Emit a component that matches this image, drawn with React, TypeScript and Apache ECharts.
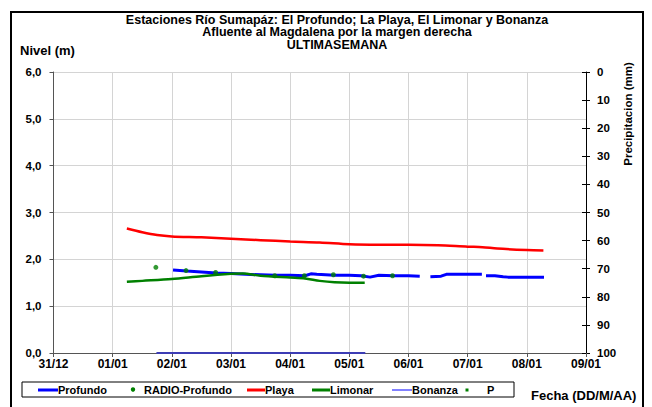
import React, { useEffect, useRef } from "react";
import * as echarts from "echarts";

const xTickLabels = ["31/12", "01/01", "02/01", "03/01", "04/01", "05/01", "06/01", "07/01", "08/01", "09/01"];

const profundoDays = [2.02, 2.25, 2.5, 2.75, 3.0, 3.25, 3.5, 3.75, 4.0, 4.25, 4.35, 4.45, 4.75, 5.0, 5.2, 5.35, 5.5, 5.75, 6.0, 6.19, 6.28, 6.37, 6.55, 6.64, 7.0, 7.24, 7.28, 7.31, 7.46, 7.6, 7.68, 8.0, 8.29];
const profundoLevels = [1.77, 1.75, 1.73, 1.71, 1.7, 1.68, 1.67, 1.66, 1.66, 1.65, 1.69, 1.68, 1.66, 1.66, 1.65, 1.62, 1.66, 1.65, 1.65, 1.64, null, 1.63, 1.64, 1.68, 1.68, 1.68, null, 1.65, 1.65, 1.63, 1.62, 1.62, 1.62];

const radioDays = [1.73, 2.24, 2.74, 3.74, 4.24, 4.73, 5.24, 5.73];
const radioLevels = [1.83, 1.76, 1.72, 1.65, 1.65, 1.67, 1.64, 1.65];

const playaDays = [1.24, 1.5, 1.75, 2.0, 2.5, 3.0, 3.5, 4.0, 4.5, 5.0, 5.5, 6.0, 6.5, 7.0, 7.25, 7.5, 8.0, 8.28];
const playaLevels = [2.66, 2.58, 2.52, 2.49, 2.47, 2.44, 2.41, 2.38, 2.36, 2.32, 2.31, 2.31, 2.3, 2.27, 2.26, 2.23, 2.2, 2.19];

const limonarDays = [1.24, 1.5, 2.0, 2.5, 3.0, 3.2, 3.5, 4.0, 4.25, 4.5, 4.75, 5.0, 5.26];
const limonarLevels = [1.52, 1.54, 1.58, 1.64, 1.69, 1.7, 1.65, 1.61, 1.59, 1.54, 1.51, 1.5, 1.5];

const bonanzaDays = [1.74, 5.27];
const bonanzaLevels = [0, 0];

const pDays: number[] = [];
const pValues: number[] = [];

const titleLines = [
  "Estaciones Río Sumapáz: El Profundo; La Playa, El Limonar y Bonanza",
  "Afluente al Magdalena por la margen derecha",
  "ULTIMASEMANA",
];

const FONT = "'Liberation Sans', Arial, sans-serif";

function zip(xs: number[], ys: (number | null)[]) {
  return xs.map((x, i) => [x, ys[i] === null ? "-" : ys[i]]);
}

export default function App() {
  const ref = useRef<HTMLDivElement>(null);
  useEffect(() => {
    document.body.style.margin = "0";
    const chart = echarts.init(ref.current!, null, { renderer: "svg" });
    const textStyle = { fontFamily: FONT, fontWeight: "bold" as const, fontSize: 11, fill: "#000" };
    const legendY = 390;
    const legendItems: any[] = [
      { type: "rect", shape: { x: 22, y: 382, width: 492, height: 15 }, style: { fill: "#fff", stroke: "#000", lineWidth: 1 } },
      { type: "line", shape: { x1: 38, y1: legendY, x2: 58, y2: legendY }, style: { stroke: "#0000ff", lineWidth: 3 } },
      { type: "text", x: 58, y: legendY, style: { ...textStyle, text: "Profundo", textVerticalAlign: "middle" } },
      { type: "circle", shape: { cx: 133, cy: legendY - 0.5, r: 2.2 }, style: { fill: "#008000" } },
      { type: "text", x: 144, y: legendY, style: { ...textStyle, text: "RADIO-Profundo", textVerticalAlign: "middle" } },
      { type: "line", shape: { x1: 247, y1: legendY, x2: 265, y2: legendY }, style: { stroke: "#ff0000", lineWidth: 3 } },
      { type: "text", x: 265, y: legendY, style: { ...textStyle, text: "Playa", textVerticalAlign: "middle" } },
      { type: "line", shape: { x1: 312, y1: legendY, x2: 330, y2: legendY }, style: { stroke: "#008000", lineWidth: 3 } },
      { type: "text", x: 330, y: legendY, style: { ...textStyle, text: "Limonar", textVerticalAlign: "middle" } },
      { type: "line", shape: { x1: 392, y1: legendY, x2: 412, y2: legendY }, style: { stroke: "#8080ff", lineWidth: 2 } },
      { type: "text", x: 412, y: legendY, style: { ...textStyle, text: "Bonanza", textVerticalAlign: "middle" } },
      { type: "rect", shape: { x: 465.5, y: legendY - 1.5, width: 3, height: 3 }, style: { fill: "#008000" } },
      { type: "text", x: 487, y: legendY, style: { ...textStyle, text: "P", textVerticalAlign: "middle" } },
    ];
    chart.setOption({
      animation: false,
      textStyle: { fontFamily: FONT },
      grid: { left: 53.5, right: 66, top: 72, bottom: 54, containLabel: false },
      graphic: [
        { type: "rect", shape: { x: 11, y: 12, width: 632, height: 420 }, style: { fill: "none", stroke: "#000", lineWidth: 2 }, z: 100 },
        ...titleLines.map((t, i) => ({
          type: "text", x: 337, y: 19.5 + i * 12.5, style: { ...textStyle, fontSize: 12.5, lineHeight: 12, text: t, textAlign: "center", textVerticalAlign: "middle" },
        })),
        { type: "text", x: 20, y: 50, style: { ...textStyle, fontSize: 13, text: "Nivel (m)", textVerticalAlign: "middle" } },
        { type: "text", x: 628, y: 114, rotation: Math.PI / 2, style: { ...textStyle, fontSize: 11.5, text: "Precipitacion (mm)", textAlign: "center", textVerticalAlign: "middle" } },
        { type: "text", x: 531, y: 395, style: { ...textStyle, fontSize: 13, text: "Fecha (DD/M/AA)", textVerticalAlign: "middle" } },
        ...legendItems,
      ],
      xAxis: {
        type: "value", min: 0, max: 9, interval: 1,
        axisLine: { show: true, onZero: false, lineStyle: { color: "#555", width: 1 } },
        axisTick: { show: true, length: 4, lineStyle: { color: "#555" } },
        axisLabel: { formatter: (v: number) => xTickLabels[Math.round(v)], color: "#000", fontWeight: "bold", fontSize: 12, fontFamily: FONT, margin: 5 },
        splitLine: { show: true, lineStyle: { color: "#d4d4d4", width: 1 } },
      },
      yAxis: [
        {
          type: "value", min: 0, max: 6, interval: 1, position: "left",
          axisLine: { show: true, lineStyle: { color: "#555" } },
          axisTick: { show: true, length: 4, lineStyle: { color: "#555" } },
          axisLabel: { formatter: (v: number) => v.toFixed(1).replace(".", ","), color: "#000", fontWeight: "bold", fontSize: 11.5, fontFamily: FONT, margin: 12 },
          splitLine: { show: true, lineStyle: { color: "#d4d4d4", width: 1 } },
        },
        {
          type: "value", min: 0, max: 100, interval: 10, position: "right", inverse: true,
          axisLine: { show: true, lineStyle: { color: "#000" } },
          axisTick: { show: true, length: 4, lineStyle: { color: "#000" } },
          axisLabel: { color: "#000", fontWeight: "bold", fontSize: 11.5, fontFamily: FONT, margin: 11 },
          splitLine: { show: false },
        },
        {
          type: "value", min: 0, max: 100, interval: 10, position: "right", inverse: true,
          axisLine: { show: false },
          axisTick: { show: true, inside: true, length: 4, lineStyle: { color: "#000" } },
          axisLabel: { show: false },
          splitLine: { show: false },
        },
      ],
      series: [
        { name: "Bonanza", type: "line", data: zip(bonanzaDays, bonanzaLevels), showSymbol: false, lineStyle: { color: "#3c3cb4", width: 2 }, z: 5 },
        { name: "Playa", type: "line", smooth: 0.3, data: zip(playaDays, playaLevels), showSymbol: false, lineStyle: { color: "#ff0000", width: 2.5 } },
        { name: "Profundo", type: "line", data: zip(profundoDays, profundoLevels), connectNulls: false, showSymbol: false, lineStyle: { color: "#0000ff", width: 3 } },
        { name: "Limonar", type: "line", smooth: 0.3, data: zip(limonarDays, limonarLevels), showSymbol: false, lineStyle: { color: "#008000", width: 2.5 } },
        { name: "RADIO-Profundo", type: "scatter", data: zip(radioDays, radioLevels), symbol: "circle", symbolSize: 5, itemStyle: { color: "#008000" }, z: 6 },
        { name: "P", type: "scatter", yAxisIndex: 1, data: zip(pDays, pValues), symbol: "rect", symbolSize: 3, itemStyle: { color: "#008000" } },
      ],
    });
    return () => chart.dispose();
  }, []);
  return <div ref={ref} style={{ width: 652, height: 407 }} />;
}
